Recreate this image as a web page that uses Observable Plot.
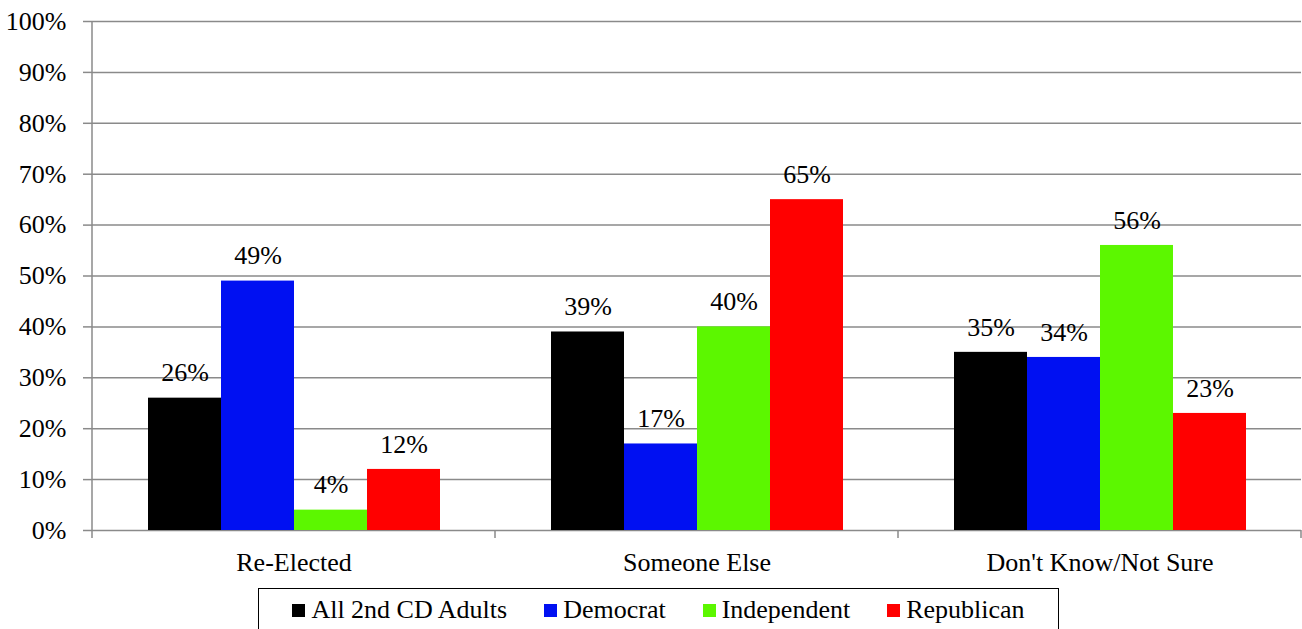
<!DOCTYPE html>
<html><head><meta charset="utf-8">
<script src="https://cdn.jsdelivr.net/npm/d3@7"></script>
<script src="https://cdn.jsdelivr.net/npm/@observablehq/plot@0.6"></script>
<style>
body{margin:0;background:#fff;font-family:'Liberation Serif'}
#wrap{position:relative;width:1302px;height:629px;overflow:hidden}
#legend{position:absolute;left:258px;top:588px;width:801px;height:50px;border:1.5px solid #000;box-sizing:border-box;display:flex;justify-content:center;align-items:flex-start;padding-top:6px;font-size:26px;gap:37px;color:#000;font-family:'Liberation Serif'}
.item{display:flex;align-items:center;gap:6px}
.sw{width:13px;height:13px;display:inline-block}
</style></head>
<body><div id="wrap"><div id="chart"></div><div id="legend"></div></div>
<script>
const categories = ["Re-Elected", "Someone Else", "Don't Know/Not Sure"];
const series = ["All 2nd CD Adults", "Democrat", "Independent", "Republican"];
const colors = ["#000000", "#0010F2", "#5CF700", "#FF0000"];
const allAdults = [26, 39, 35];
const democrat = [49, 17, 34];
const independent = [4, 40, 56];
const republican = [12, 65, 23];
const yTicks = [0, 10, 20, 30, 40, 50, 60, 70, 80, 90, 100];

const valuesBySeries = [allAdults, democrat, independent, republican];
const data = [];
categories.forEach((c, i) => {
  series.forEach((s, j) => data.push({category: c, series: s, value: valuesBySeries[j][i]}));
});

const chart = Plot.plot({
  width: 1302,
  height: 585,
  marginLeft: 92,
  marginRight: 1,
  marginTop: 21,
  marginBottom: 55,
  style: {fontFamily: "Liberation Serif", fontSize: "26px"},
  fx: {domain: categories, padding: 0, axis: null},
  x: {domain: series, paddingInner: 0, paddingOuter: 0.75, axis: null},
  y: {domain: [0, 100], axis: null},
  color: {domain: series, range: colors},
  marks: [
    Plot.gridY(yTicks, {stroke: "#8a8a8a", strokeOpacity: 1, strokeWidth: 1.5}),
    Plot.axisY(yTicks, {tickSize: 9, tickPadding: 17, tickFormat: d => d + "%", fontSize: 26, stroke: "#8a8a8a", strokeWidth: 1.5, fill: "#000", label: null}),
    Plot.barY(data, {fx: "category", x: "series", y: "value", fill: "series"}),
    Plot.text(data, {fx: "category", x: "series", y: "value", text: d => d.value + "%", dy: -25, lineAnchor: "middle", fontSize: 26, fill: "#000"}),
    Plot.text(categories, {fx: d => d, frameAnchor: "bottom", dy: 32, lineAnchor: "middle", text: d => d, fontSize: 26, fill: "#000"})
  ]
});
document.getElementById("chart").appendChild(chart);

// axis line and category boundary ticks, positioned with the plot's own scales
const fx = chart.scale("fx");
const y = chart.scale("y");
const svg = d3.select(chart);
const y0 = y.apply(0), y1 = y.apply(100);
const left = fx.apply(categories[0]);
const g = svg.append("g").attr("stroke", "#8a8a8a").attr("stroke-width", 1.5);
g.append("line").attr("x1", left).attr("x2", left).attr("y1", y1).attr("y2", y0);
const bounds = categories.map(c => fx.apply(c)).concat([fx.apply(categories[categories.length - 1]) + fx.bandwidth]);
bounds.forEach(b => g.append("line").attr("x1", b).attr("x2", b).attr("y1", y0).attr("y2", y0 + 8));

// legend
const legend = d3.select("#legend");
series.forEach((s, i) => {
  const item = legend.append("div").attr("class", "item");
  item.append("span").attr("class", "sw").style("background", colors[i]);
  item.append("span").text(s);
});
</script>
</body></html>
